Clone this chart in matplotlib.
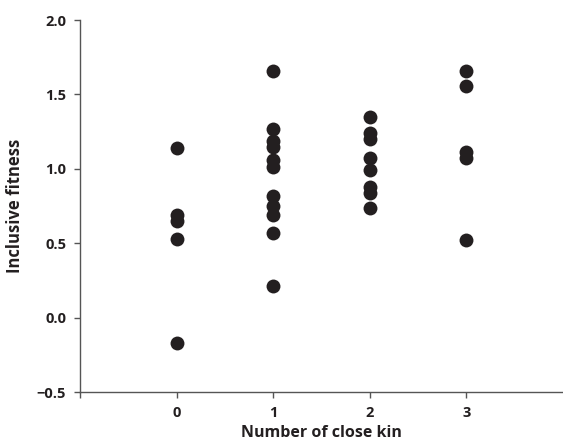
import matplotlib.pyplot as plt

# number of close kin and inclusive fitness values
kin_0 = [1.14, 0.69, 0.65, 0.53, -0.17]
kin_1 = [1.66, 1.27, 1.19, 1.15, 1.06, 1.01, 0.82, 0.75, 0.69, 0.57, 0.21]
kin_2 = [1.35, 1.24, 1.20, 1.07, 0.99, 0.88, 0.84, 0.74]
kin_3 = [1.66, 1.56, 1.11, 1.07, 0.52]

groups = [0, 1, 2, 3]
values = [kin_0, kin_1, kin_2, kin_3]

x_ticks = [-1, 0, 1, 2, 3]
x_labels = ['', '0', '1', '2', '3']
y_ticks = [-0.5, 0.0, 0.5, 1.0, 1.5, 2.0]

plt.rcParams['font.family'] = ['Open Sans', 'DejaVu Sans']

fig = plt.figure(figsize=(5.63, 4.46), dpi=100)
ax = fig.add_axes([0.142, 0.121, 0.858, 0.834])

for g, vals in zip(groups, values):
    ax.scatter([g] * len(vals), vals, s=100, color='#231f20', zorder=3, linewidths=0)

ax.set_xlim(-1, 4)
ax.set_ylim(-0.5, 2.0)
ax.set_xticks(x_ticks)
ax.set_xticklabels(x_labels)
ax.set_yticks(y_ticks)
ax.set_yticklabels([f'{v:.1f}'.replace('-', '\u2212') for v in y_ticks])

for side in ['top', 'right']:
    ax.spines[side].set_visible(False)
for side in ['left', 'bottom']:
    ax.spines[side].set_color('#555555')
    ax.spines[side].set_linewidth(1.0)

ax.tick_params(axis='both', length=4, width=1, color='#555555', labelsize=10.5,
               labelcolor='#231f20', pad=6)
for lbl in ax.get_xticklabels() + ax.get_yticklabels():
    lbl.set_fontweight('bold')

ax.set_xlabel('Number of close kin', fontsize=11.5, fontweight='bold', color='#231f20', labelpad=4)
ax.set_ylabel('Inclusive fitness', fontsize=12, fontweight='bold', color='#231f20', labelpad=9)

plt.savefig('out.png', dpi=100)
